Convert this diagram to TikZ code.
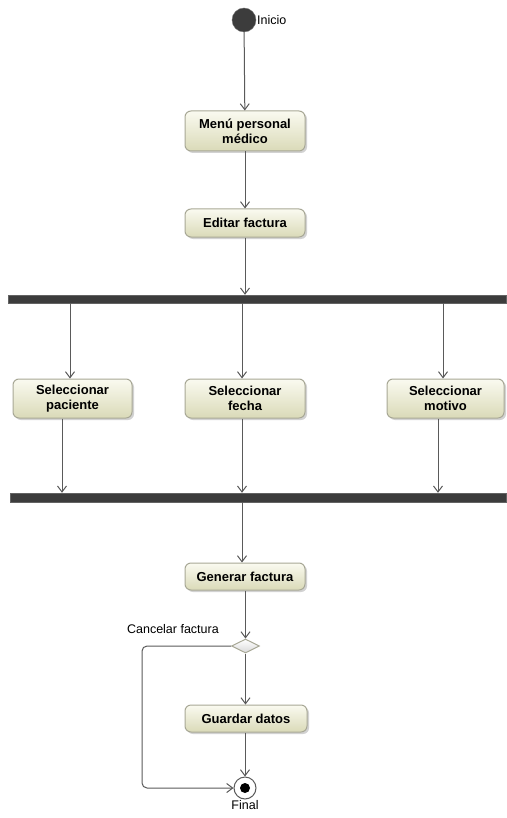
\documentclass[tikz,border=0pt]{standalone}
\usepackage{fontspec}
\setmainfont{Liberation Sans}
\usetikzlibrary{arrows.meta,shapes.geometric,shadows}
\definecolor{lineg}{HTML}{5A5A5A}
\definecolor{boxtop}{HTML}{FAFAF0}
\definecolor{boxbot}{HTML}{DADAB8}
\definecolor{boxedge}{HTML}{A8A896}
\definecolor{bardark}{HTML}{3C3C3C}
\begin{document}
\begin{tikzpicture}[x=1pt,y=-1pt,
  actbox/.style={rectangle, rounded corners=6pt, draw=boxedge, line width=1pt,
    top color=boxtop, bottom color=boxbot, inner sep=0pt, align=center,
    font=\fontsize{13}{15}\selectfont\bfseries,
    drop shadow={shadow xshift=2pt, shadow yshift=-2pt, fill=black!35, opacity=.5}},
  forkbar/.style={rectangle, fill=bardark, draw=bardark!80, inner sep=0pt},
  flow/.style={draw=lineg, line width=1pt, -{Straight Barb[length=6pt,width=9pt,line width=1pt]}},
  lbl/.style={font=\fontsize{12.5}{14}\selectfont, inner sep=0pt}
]
\useasboundingbox (0,0) rectangle (506,818);
\fill[white] (0,0) rectangle (506,818);

% start
\node[circle, minimum size=24pt, inner sep=0pt, fill=bardark, draw=bardark!70] (start) at (244,20) {};
\node[lbl, anchor=west] (inicio) at (257,20) {Inicio};

% actions
\node[actbox, minimum width=120pt, minimum height=40pt] (menu) at (245,131) {Menú personal\\médico};
\node[actbox, minimum width=120pt, minimum height=28pt] (edit) at (245,223) {Editar factura};

\node[forkbar, minimum width=498pt, minimum height=8pt] (bar1) at (257,299) {};

\node[actbox, minimum width=119pt, minimum height=39pt] (pac) at (72.5,398.5) {Seleccionar\\paciente};
\node[actbox, minimum width=120pt, minimum height=39pt] (fec) at (245,398.5) {Seleccionar\\fecha};
\node[actbox, minimum width=117pt, minimum height=39pt] (mot) at (445.5,398.5) {Seleccionar\\motivo};

\node[forkbar, minimum width=496pt, minimum height=9pt] (bar2) at (258,497.5) {};

\node[actbox, minimum width=120pt, minimum height=27pt] (gen) at (245,576.5) {Generar factura};

\node[diamond, draw=boxedge, line width=1pt, top color=white, bottom color=black!15,
  minimum width=28pt, minimum height=14pt, inner sep=0pt, aspect=2] (dec) at (245.5,646) {};
\node[lbl, anchor=south east] (cancel) at (219,634) {Cancelar factura};

\node[actbox, minimum width=122pt, minimum height=27pt] (guard) at (246,718.5) {Guardar datos};

% final
\node[circle, draw=lineg, line width=1pt, fill=white, minimum size=22pt, inner sep=0pt] (fin) at (245,788) {};
\node[circle, fill=black, minimum size=10pt, inner sep=0pt] (findot) at (fin.center) {};
\node[lbl, anchor=north] (finlbl) at (245,800) {Final};

% connectors
\draw[flow] (start) -- (menu);
\draw[flow] (menu) -- (edit);
\draw[flow] (edit.south) -- (bar1.north -| edit.south);

\coordinate (p1) at (70,0);
\coordinate (p2) at (242,0);
\coordinate (p3) at (443,0);
\draw[flow] (bar1.south -| p1) -- (pac.north -| p1);
\draw[flow] (bar1.south -| p2) -- (fec.north -| p2);
\draw[flow] (bar1.south -| p3) -- (mot.north -| p3);

\coordinate (q1) at (62,0);
\coordinate (q3) at (438,0);
\draw[flow] (pac.south -| q1) -- (bar2.north -| q1);
\draw[flow] (fec.south -| p2) -- (bar2.north -| p2);
\draw[flow] (mot.south -| q3) -- (bar2.north -| q3);

\draw[flow] (bar2.south -| p2) -- (gen.north -| p2);
\draw[flow] (gen.south -| dec.north) -- (dec.north);
\draw[flow] (dec.south) -- (guard.north -| dec.south);
\draw[flow] (guard.south -| fin.north) -- (fin.north);

\coordinate (lc) at (142,0);
\draw[flow, rounded corners=5pt] (dec.west) -- (dec.west -| lc) -- (fin.west -| lc) -- (fin.west);
\end{tikzpicture}
\end{document}
